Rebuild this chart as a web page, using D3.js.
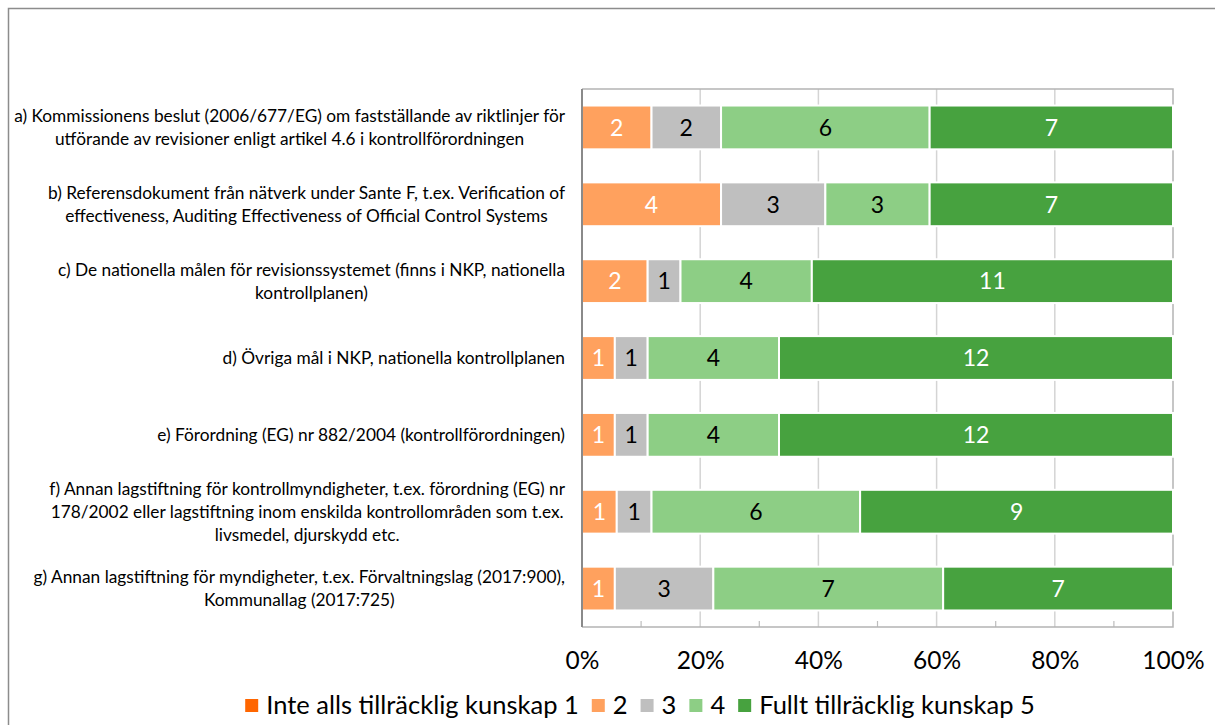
<!DOCTYPE html>
<html>
<head>
<meta charset="utf-8">
<script src="https://cdn.jsdelivr.net/npm/d3@7"></script>
<style>
  body { margin: 0; background: #fff; }
  svg { display: block; font-family: Lato, "Open Sans", sans-serif; }
</style>
</head>
<body>
<svg id="chart" width="1215" height="725"></svg>
<script>
// ===== data =====
var categories = [
  ["a) Kommissionens beslut (2006/677/EG) om fastställande av riktlinjer för", "utförande av revisioner enligt artikel 4.6 i kontrollförordningen"],
  ["b) Referensdokument från nätverk under Sante F, t.ex. Verification of", "effectiveness, Auditing Effectiveness of Official Control Systems"],
  ["c) De nationella målen för revisionssystemet (finns i NKP, nationella", "kontrollplanen)"],
  ["d) Övriga mål i NKP, nationella kontrollplanen"],
  ["e) Förordning (EG) nr 882/2004 (kontrollförordningen)"],
  ["f) Annan lagstiftning för kontrollmyndigheter, t.ex. förordning (EG) nr", "178/2002 eller lagstiftning inom enskilda kontrollområden som t.ex.", "livsmedel, djurskydd etc."],
  ["g) Annan lagstiftning för myndigheter, t.ex. Förvaltningslag (2017:900),", "Kommunallag (2017:725)"]
];
var seriesNames = ["Inte alls tillräcklig kunskap 1", "2", "3", "4", "Fullt tillräcklig kunskap 5"];
var s1 = [0, 0, 0, 0, 0, 0, 0];
var s2 = [2, 4, 2, 1, 1, 1, 1];
var s3 = [2, 3, 1, 1, 1, 1, 3];
var s4 = [6, 3, 4, 4, 4, 6, 7];
var s5 = [7, 7, 11, 12, 12, 9, 7];
var xTicks = [0, 0.2, 0.4, 0.6, 0.8, 1];

var colors = ["#ff6600", "#ffa15e", "#bfbfbf", "#8dce85", "#47a23f"];
var labelColors = ["#fff", "#fff", "#000", "#000", "#fff"];

// ===== main =====
var svg = d3.select("#chart");
var plotL = 582, plotR = 1173, plotT = 89, plotB = 627;

// outer chart frame
svg.append("rect")
  .attr("x", 8.5).attr("y", 8.5)
  .attr("width", 1230).attr("height", 740)
  .attr("fill", "none").attr("stroke", "#8c8c8c").attr("stroke-width", 1.5);

var series = [s1, s2, s3, s4, s5];
var rows = categories.map(function (c, i) {
  var r = { idx: i };
  series.forEach(function (s, k) { r["k" + k] = s[i]; });
  return r;
});
var keys = series.map(function (s, k) { return "k" + k; });
var stacked = d3.stack().keys(keys).offset(d3.stackOffsetExpand)(rows);

var x = d3.scaleLinear().domain([0, 1]).range([plotL, plotR]);
var y = d3.scaleBand().domain(d3.range(categories.length)).range([plotT, plotB]).paddingInner(0.43).paddingOuter(0.215);

// gridlines
svg.append("g").selectAll("line")
  .data(xTicks.slice(1, -1))
  .enter().append("line")
  .attr("x1", function (d) { return x(d); }).attr("x2", function (d) { return x(d); })
  .attr("y1", plotT).attr("y2", plotB)
  .attr("stroke", "#d4d4d4").attr("stroke-width", 1.5);

// minor ticks
svg.append("g").selectAll("line")
  .data([0.1, 0.3, 0.5, 0.7, 0.9])
  .enter().append("line")
  .attr("x1", function (d) { return x(d); }).attr("x2", function (d) { return x(d); })
  .attr("y1", plotB - 6).attr("y2", plotB)
  .attr("stroke", "#bdbdbd").attr("stroke-width", 1.2);

// plot border (top, right, bottom)
svg.append("path")
  .attr("d", "M" + plotL + "," + plotT + "H" + plotR + "V" + plotB + "H" + plotL)
  .attr("fill", "none").attr("stroke", "#b4b4b4").attr("stroke-width", 1.5);

// bars
var layer = svg.append("g").selectAll("g")
  .data(stacked)
  .enter().append("g")
  .attr("fill", function (d, k) { return colors[k]; });

layer.selectAll("rect")
  .data(function (d) { return d.filter(function (p) { return p[1] > p[0]; }); })
  .enter().append("rect")
  .attr("x", function (d) { return x(d[0]); })
  .attr("width", function (d) { return x(d[1]) - x(d[0]); })
  .attr("y", function (d) { return y(d.data.idx); })
  .attr("height", y.bandwidth())
  .attr("stroke", "#fff").attr("stroke-width", 2);

// data labels
stacked.forEach(function (lay, k) {
  svg.append("g").selectAll("text")
    .data(lay.filter(function (p) { return p[1] > p[0]; }))
    .enter().append("text")
    .attr("x", function (d) { return x((d[0] + d[1]) / 2); })
    .attr("y", function (d) { return y(d.data.idx) + y.bandwidth() / 2; })
    .attr("dy", "0.36em")
    .attr("text-anchor", "middle")
    .attr("font-size", 23)
    .attr("fill", labelColors[k])
    .text(function (d) { return d.data["k" + k]; });
});

// left axis line
svg.append("line")
  .attr("x1", plotL).attr("x2", plotL).attr("y1", plotT).attr("y2", plotB)
  .attr("stroke", "#8a8a8a").attr("stroke-width", 2);

// x tick labels
var xAxis = d3.axisBottom(x).tickValues(xTicks).tickFormat(d3.format(".0%")).tickSize(0).tickPadding(25);
var gx = svg.append("g").attr("transform", "translate(0," + plotB + ")").call(xAxis);
gx.select(".domain").remove();
gx.selectAll("text").attr("font-size", 24.5).attr("fill", "#000").attr("font-family", "Lato, sans-serif");

// category labels (multi-line, centred block, right edge at 565)
var labelRight = 565, lineH = 23;
categories.forEach(function (lines, i) {
  var g = svg.append("g").attr("font-size", 17.3).attr("fill", "#000");
  var texts = lines.map(function (t) { return g.append("text").text(t); });
  var maxW = d3.max(texts, function (t) { return t.node().getComputedTextLength(); });
  var cx = labelRight - maxW / 2;
  var cy = y(i) + y.bandwidth() / 2;
  texts.forEach(function (t, j) {
    t.attr("x", cx).attr("text-anchor", "middle")
      .attr("y", cy + (j - (lines.length - 1) / 2) * lineH)
      .attr("dy", "0.35em");
  });
});

// legend
var legend = svg.append("g").attr("font-size", 25.5);
var lx = 0;
seriesNames.forEach(function (name, k) {
  var it = legend.append("g");
  it.append("rect").attr("x", 0).attr("y", -15).attr("width", 13).attr("height", 13).attr("fill", colors[k]);
  var t = it.append("text").attr("x", 21).attr("y", 0).text(name);
  var w = 21 + t.node().getComputedTextLength();
  it.attr("transform", "translate(" + lx + ",0)");
  lx += w + 13;
});
var totalW = lx - 13;
legend.attr("transform", "translate(" + (640 - totalW / 2) + ",714)");
</script>
</body>
</html>
